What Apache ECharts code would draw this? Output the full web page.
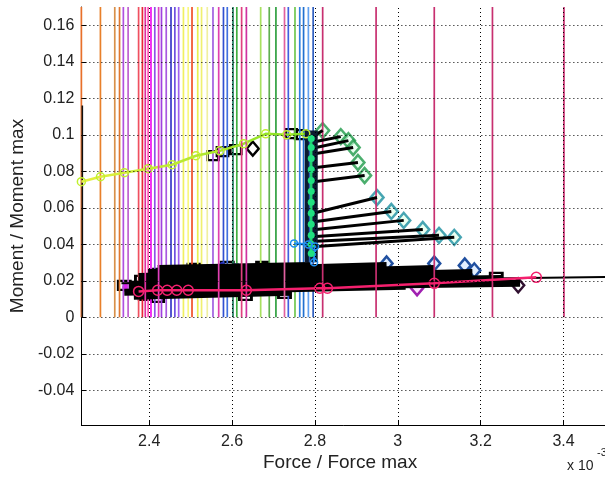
<!DOCTYPE html>
<html>
<head>
<meta charset="utf-8">
<script src="https://cdn.jsdelivr.net/npm/echarts@6/dist/echarts.min.js"></script>
<style>
html, body { margin: 0; padding: 0; background: #fff; }
#chart { width: 605px; height: 478px; }
</style>
</head>
<body>
<div id="chart"></div>
<script>
// tick values
var xTicks = [2.4, 2.6, 2.8, 3.0, 3.2, 3.4];
var yTicks = [-0.04, -0.02, 0, 0.02, 0.04, 0.06, 0.08, 0.1, 0.12, 0.14, 0.16];

// vertical contour-like lines (drawn behind the black band)
var backLineX = [2.2364, 2.2824, 2.3170, 2.3285, 2.3377, 2.3492, 2.3745, 2.3837, 2.3975, 2.4044,
    2.4136, 2.4297, 2.4412, 2.4527, 2.4620, 2.4712, 2.4827, 2.4942, 2.5034, 2.5172,
    2.5264, 2.5402, 2.5540, 2.5793, 2.5885, 2.6023, 2.6115, 2.6691, 2.6898, 2.7059,
    2.7358, 2.7519, 2.7634, 2.7726, 2.7842, 2.7957];
// vertical lines drawn on top of the band
var frontLineX = [2.3906, 2.4228, 2.5678, 2.6231, 2.6346, 2.7266, 2.8187, 2.9476, 3.0880, 3.2284, 3.4010];
var lineTop = 0.17;

// yellow-green path
var ygX = [2.2364, 2.2825, 2.3400, 2.3977, 2.4553, 2.5129, 2.5705, 2.6281, 2.6811, 2.7318, 2.7779];
var ygY = [0.0743, 0.0770, 0.0792, 0.0814, 0.0836, 0.0885, 0.0912, 0.0951, 0.1005, 0.1000, 0.1005];

// black squares / diamond near the top of the path
var topSqX = [2.554, 2.577, 2.609, 2.7427, 2.7657];
var topSqY = [0.0886, 0.0908, 0.0919, 0.1006, 0.1001];
var topDiaX = [2.650];
var topDiaY = [0.0924];

// vertical column
var colX = 2.7911;
var colY = [0.1023, 0.0301];
var colMarkY = [0.098, 0.093, 0.087, 0.081, 0.075, 0.069, 0.063, 0.057, 0.051, 0.045, 0.040, 0.035];

// arrows from the column to diamonds
var qStartX = 2.8026;
var qStartY = [0.1001, 0.0963, 0.0930, 0.0897, 0.0821, 0.0744, 0.0574, 0.0525, 0.0481, 0.0443, 0.0416, 0.0388];
var qEndX = [2.8187, 2.8624, 2.8808, 2.8923, 2.9038, 2.9199, 2.9499, 2.9844, 3.0143, 3.0603, 3.0995, 3.1363];
var qEndY = [0.1023, 0.0990, 0.0968, 0.0930, 0.0848, 0.0777, 0.0656, 0.0580, 0.0531, 0.0481, 0.0449, 0.0438];

// blue short path
var blueX = [2.7496, 2.7841, 2.8003, 2.7980];
var blueY = [0.0405, 0.0399, 0.0388, 0.0301];

// black band segments
var bandX0 = [2.3515, 2.3975, 2.4205, 2.3745, 2.3745, 2.3515, 2.3400, 2.3630, 2.5126, 2.4205];
var bandY0 = [0.0159, 0.0246, 0.0268, 0.0224, 0.0202, 0.0181, 0.0137, 0.0115, 0.0170, 0.0202];
var bandX1 = [3.2951, 2.9729, 2.7888, 3.0880, 3.1800, 3.2491, 3.0189, 2.7427, 2.9729, 2.9269];
var bandY1 = [0.0186, 0.0284, 0.0284, 0.0268, 0.0246, 0.0213, 0.0170, 0.0137, 0.0202, 0.0235];
var longLineX = [2.3331, 3.5];
var longLineY = [0.0186, 0.0221];

// hollow squares on the band
var sqX = [2.3400, 2.3814, 2.4251, 2.5080, 2.5885, 2.6737, 2.3906, 2.4205, 2.7266, 2.6323, 3.2376];
var sqY = [0.0175, 0.0202, 0.0241, 0.0268, 0.0279, 0.0279, 0.0120, 0.0109, 0.0131, 0.0120, 0.0219];

// red path
var redX = [2.3745, 2.4205, 2.4435, 2.4666, 2.4942, 2.6346, 2.8118, 2.8302, 3.0880, 3.3342];
var redY = [0.0142, 0.0148, 0.0148, 0.0148, 0.0148, 0.0148, 0.0159, 0.0159, 0.0186, 0.0219];

// small markers
var magX = [2.3469], magY = [0.0164];
var dotBlueX = [2.4666, 2.4827, 2.5770, 2.6115];
var dotBlueY = [0.0257, 0.0268, 0.0284, 0.0279];
var diaBlueX = [2.9729, 3.0880, 3.1616, 3.1846];
var diaBlueY = [0.0295, 0.0295, 0.0284, 0.0257];
var diaPurpleX = [3.0465], diaPurpleY = [0.0159];
var diaDarkX = [3.2905], diaDarkY = [0.0175];
var purpleX = [3.0189, 3.0419, 3.0649];
var purpleY = [0.0230, 0.0219, 0.0224];
var blackStubX = [2.2387, 2.2387], blackStubY = [0, 0.116];

// colours (style)
var backColors = ['#e8702a', '#e8802a', '#d8904a', '#e07830', '#b050e0', '#c060d0', '#f05060', '#e82838', '#ff50b0', '#f010f0',
    '#9050e8', '#a040e0', '#a858e0', '#3838c8', '#7050e0', '#a060f0', '#f0f060', '#f8f880', '#f05028', '#e8f050',
    '#f0f070', '#f0f0a0', '#a060e0', '#3050d0', '#4070e0', '#208060', '#40b040', '#a8e060', '#60b050', '#30a040',
    '#4060e0', '#70c850', '#3080e0', '#2070d0', '#60a0f0', '#3060c0'];
var frontColors = ['#e030a0', '#e040c0', '#e040b0', '#e04080', '#d030a0', '#e060a0', '#c83070', '#c83070', '#c83070', '#c83070', '#c83070'];
var clear = 'rgba(255,255,255,0)';

function zip(xs, ys) {
    return xs.map(function (x, i) { return [x, ys[i]]; });
}

function vline(x, color) {
    return {
        type: 'line', data: [[x, 0], [x, lineTop]], symbol: 'none',
        lineStyle: { color: color, width: 1.7 }, silent: true
    };
}

function seg(x0, y0, x1, y1, color, width) {
    return {
        type: 'line', data: [[x0, y0], [x1, y1]], symbol: 'none',
        lineStyle: { color: color, width: width }, silent: true
    };
}

function scatter(data, symbol, size, fill, border, bw) {
    return {
        type: 'scatter', data: data, symbol: symbol, symbolSize: size, silent: true,
        itemStyle: { color: fill, borderColor: border, borderWidth: bw, opacity: 1 }
    };
}

var series = [];

// dotted grid
series.push({
    type: 'line', data: [], silent: true,
    markLine: {
        silent: true, symbol: 'none', label: { show: false }, animation: false,
        lineStyle: { color: '#000', type: [1, 3], width: 1 },
        data: xTicks.map(function (v) { return { xAxis: v }; })
            .concat(yTicks.map(function (v) { return { yAxis: v }; }))
    }
});

backLineX.forEach(function (x, i) { series.push(vline(x, backColors[i])); });
series.push(seg(blackStubX[0], blackStubY[0], blackStubX[1], blackStubY[1], '#111', 1.6));

// yellow-green path
series.push({
    type: 'line', data: zip(ygX, ygY), symbol: 'circle', symbolSize: 8, silent: true,
    lineStyle: {
        width: 2.5,
        color: new echarts.graphic.LinearGradient(0, 0, 1, 0, [
            { offset: 0, color: '#e8f040' }, { offset: 1, color: '#80e020' }])
    },
    itemStyle: { color: clear, borderColor: '#c0f030', borderWidth: 1.5 }
});
series.push(scatter(zip(topSqX, topSqY), 'rect', [11, 9], clear, '#000', 2.5));
series.push(scatter(zip(topDiaX, topDiaY), 'diamond', [12, 14], clear, '#000', 2.5));

// black band
bandX0.forEach(function (x, i) { series.push(seg(x, bandY0[i], bandX1[i], bandY1[i], '#000', 7)); });
series.push(seg(longLineX[0], longLineY[0], longLineX[1], longLineY[1], '#000', 2));

frontLineX.forEach(function (x, i) { series.push(vline(x, frontColors[i])); });

// arrows to diamonds
qEndX.forEach(function (x, i) { series.push(seg(qStartX, qStartY[i], x, qEndY[i], '#000', 3)); });
series.push({
    type: 'scatter', silent: true, symbol: 'diamond', symbolSize: [13, 15],
    data: qEndX.map(function (x, i) {
        return {
            value: [x, qEndY[i]],
            itemStyle: { color: 'rgba(220,255,230,0.7)', borderColor: i < 6 ? '#1f9a4a' : '#1a8fa0', borderWidth: 2.5 }
        };
    })
});

// column
series.push(seg(colX, colY[0], colX, colY[1], '#0c1a30', 13));
series.push(seg(colX - 0.004, colY[0], colX - 0.004, colY[1], '#2a5fb0', 1.5));
series.push({
    type: 'line', data: colMarkY.map(function (y) { return [colX, y]; }),
    symbol: 'circle', symbolSize: 7, silent: true,
    lineStyle: { color: '#20d070', width: 2.5 }, itemStyle: { color: '#20e080' }
});

// blue path
series.push({
    type: 'line', data: zip(blueX, blueY), symbol: 'circle', symbolSize: 7, silent: true,
    lineStyle: { color: '#1e8ff0', width: 2.5 }, itemStyle: { color: clear, borderColor: '#1e8ff0', borderWidth: 1.5 }
});

// band markers
series.push(scatter(zip(sqX, sqY), 'rect', [12, 9], '#fff', '#000', 2.5));
series.push(scatter(zip(dotBlueX, dotBlueY), 'circle', 6, '#3030e0', '#3030e0', 1));
series.push(scatter(zip(purpleX, purpleY), 'circle', 6, '#9050d0', '#9050d0', 1));
series.push(scatter(zip(diaBlueX, diaBlueY), 'diamond', [12, 14], 'rgba(220,235,255,0.8)', '#2050a0', 2.5));
series.push(scatter(zip(diaPurpleX, diaPurpleY), 'diamond', [12, 14], 'rgba(255,220,255,0.8)', '#a020b0', 2.5));
series.push(scatter(zip(diaDarkX, diaDarkY), 'diamond', [12, 14], 'rgba(255,255,255,0.6)', '#301030', 2.5));

// red path
series.push({
    type: 'line', data: zip(redX, redY), symbol: 'circle', symbolSize: 10, silent: true,
    lineStyle: { color: '#f5206e', width: 2.5 }, itemStyle: { color: clear, borderColor: '#f5206e', borderWidth: 1.5 }
});
series.push(scatter(zip(magX, magY), 'circle', 9, '#e020f0', '#e020f0', 1));

var chart = echarts.init(document.getElementById('chart'), null, { renderer: 'canvas' });
var fontFam = '"Liberation Sans", Arial, sans-serif';

chart.setOption({
    animation: false,
    backgroundColor: '#fff',
    grid: { left: 80, right: -24, top: 7, bottom: 53, containLabel: false },
    xAxis: {
        type: 'value', min: 2.2364, max: 3.5,
        axisLine: { show: true, onZero: false, lineStyle: { color: '#000', width: 1 } },
        axisTick: { show: true, inside: true, length: 5, customValues: xTicks, lineStyle: { color: '#000' } },
        axisLabel: {
            customValues: xTicks, color: '#222', fontSize: 16, margin: 9, fontFamily: fontFam,
            formatter: function (v) { return String(+(+v).toFixed(1)); }
        },
        splitLine: { show: false }
    },
    yAxis: {
        type: 'value', min: -0.059, max: 0.17,
        name: 'Moment / Moment max', nameLocation: 'middle', nameGap: 47,
        nameTextStyle: { color: '#222', fontSize: 19, fontFamily: fontFam },
        axisLine: { show: true, onZero: false, lineStyle: { color: '#000', width: 1 } },
        axisTick: { show: true, inside: true, length: 5, customValues: yTicks, lineStyle: { color: '#000' } },
        axisLabel: {
            customValues: yTicks, color: '#222', fontSize: 16, margin: 7, fontFamily: fontFam,
            formatter: function (v) { return String(+(+v).toFixed(2)); }
        },
        splitLine: { show: false }
    },
    graphic: [
        { type: 'text', left: 263, top: 453, style: { text: 'Force / Force max', fill: '#222', font: '19px ' + fontFam } },
        { type: 'text', left: 567, top: 459, style: { text: 'x 10', fill: '#222', font: '14px ' + fontFam } },
        { type: 'text', left: 597, top: 447, style: { text: '-3', fill: '#222', font: '11px ' + fontFam } }
    ],
    series: series
});
</script>
</body>
</html>
